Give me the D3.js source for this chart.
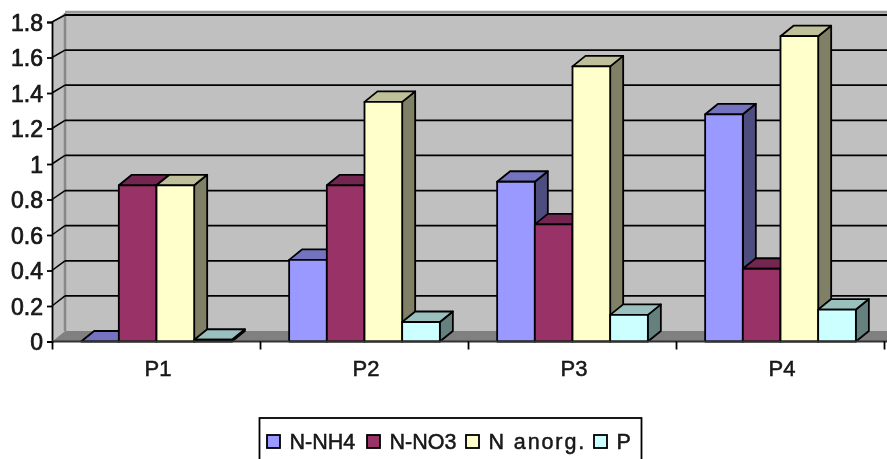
<!DOCTYPE html>
<html><head><meta charset="utf-8">
<script src="https://cdnjs.cloudflare.com/ajax/libs/d3/7.8.5/d3.min.js"></script>
<style>html,body{margin:0;padding:0;background:#fff;overflow:hidden}svg{display:block}text{font-family:"Liberation Sans",Arial,sans-serif;fill:#1a1a1a}</style>
</head><body><svg id="c" width="887" height="459"></svg>
<script>
const categories = ["P1","P2","P3","P4"];
const seriesNames = ["N-NH4","N-NO3","N anorg.","P"];
const nNH4 = [0, 0.46, 0.9, 1.28];
const nNO3 = [0.88, 0.88, 0.66, 0.41];
const nAnorg = [0.88, 1.35, 1.55, 1.72];
const pVals = [0.01, 0.11, 0.15, 0.18];
const seriesValues = [nNH4, nNO3, nAnorg, pVals];
const tickValues = [0,0.2,0.4,0.6,0.8,1,1.2,1.4,1.6,1.8];
const frontColors = ["#9999FF","#993366","#FFFFCC","#CCFFFF"];
const topColors = ["#7373BF","#732650","#BFBF99","#99BFBF"];
const sideColors = ["#4D4D80","#4D1A33","#808066","#668080"];

const svg = d3.select("#c");
const defs = svg.append("defs");
defs.append("filter").attr("id","soft").attr("x","-2%").attr("y","-2%").attr("width","104%").attr("height","104%")
  .append("feGaussianBlur").attr("stdDeviation",0.55);
const g = svg.append("g").attr("filter","url(#soft)");

const dx = 13, dy = -10.5;
const x = d3.scaleBand().domain(categories).range([52.5,884.5]);
const inner = d3.scaleBand().domain(seriesNames).range([0,x.bandwidth()]).paddingInner(0).paddingOuter(0.76);
const y = d3.scaleLinear().domain([0,1.8]).range([341.5,22]);
const yBack = d3.scaleLinear().domain([0,1.8]).range([331,15]);
const [x0,x1] = [52, 900];
const pts = a => a.map(p=>p.join(",")).join(" ");

// walls
g.append("polygon").attr("points",pts([[x0+dx,13],[x1,13],[x1,yBack(0)],[x0+dx,yBack(0)]])).attr("fill","#C0C0C0");
g.append("polygon").attr("points",pts([[x0,y(1.8)],[x0+dx,13],[x0+dx,yBack(0)],[x0,y(0)]])).attr("fill","#C0C0C0");
g.append("polygon").attr("points",pts([[x0,y(0)],[x0+dx,yBack(0)],[x1,yBack(0)],[x1,y(0)]])).attr("fill","#808080");
g.append("line").attr("x1",x0+dx).attr("x2",x0+dx).attr("y1",13).attr("y2",yBack(0)).attr("stroke","#888").attr("stroke-width",2.5);
g.append("line").attr("x1",x0+dx).attr("x2",x1).attr("y1",12).attr("y2",12).attr("stroke","#999").attr("stroke-width",2.5);

// gridlines and oblique connectors
const ticksG = g.append("g");
ticksG.selectAll("line.grid").data(tickValues.filter(d=>d>0)).join("line").attr("class","grid")
  .attr("x1",x0+dx).attr("x2",x1).attr("y1",d=>yBack(d)).attr("y2",d=>yBack(d))
  .attr("stroke","#000").attr("stroke-width",1.8);
ticksG.selectAll("line.ob").data(tickValues.filter(d=>d>0)).join("line").attr("class","ob")
  .attr("x1",x0).attr("x2",x0+dx).attr("y1",d=>y(d)).attr("y2",d=>yBack(d))
  .attr("stroke","#000").attr("stroke-width",1.5);

// bars
categories.forEach((c,ci)=>{
  seriesNames.forEach((s,si)=>{
    const v = seriesValues[si][ci];
    const l = x(c)+inner(s), r = l+inner.bandwidth(), t = y(v), b = y(0);
    const bar = g.append("g").attr("stroke","#000").attr("stroke-width",1.8).attr("stroke-linejoin","round");
    bar.append("polygon").attr("points",pts([[r,t],[r+dx,t+dy],[r+dx,b+dy],[r,b]])).attr("fill",sideColors[si]);
    bar.append("polygon").attr("points",pts([[l,t],[l+dx,t+dy],[r+dx,t+dy],[r,t]])).attr("fill",topColors[si]);
    bar.append("rect").attr("x",l).attr("y",t).attr("width",r-l).attr("height",Math.max(0,b-t)).attr("fill",frontColors[si]);
  });
});

// axes
const yAxis = d3.axisLeft(y).tickValues(tickValues).tickFormat(d3.format("~g")).tickSize(5).tickPadding(4);
const ya = g.append("g").attr("transform",`translate(${x0},0)`).call(yAxis);
ya.select(".domain").attr("stroke","#000").attr("stroke-width",1.8);
ya.selectAll(".tick line").attr("stroke","#000").attr("stroke-width",1.8);
ya.selectAll("text").attr("font-size",23).attr("fill","#111").attr("stroke","#111").attr("stroke-width",0.7)
  .attr("font-family","'Liberation Sans',Arial,sans-serif").attr("dy","0.35em");

const xAxis = d3.axisBottom(x).tickSize(0).tickPadding(19);
const xa = g.append("g").attr("transform",`translate(0,${y(0)})`).call(xAxis);
xa.select(".domain").attr("stroke","#333").attr("stroke-width",1.8).attr("d",`M${x0},0H${x1}`);
xa.selectAll("text").attr("font-size",22).attr("fill","#111").attr("stroke","#111").attr("stroke-width",0.5)
  .attr("dx",1.5).attr("font-family","'Liberation Sans',Arial,sans-serif");
g.append("g").selectAll("line").data(d3.range(5)).join("line")
  .attr("x1",i=>x.range()[0]+i*x.step()).attr("x2",i=>x.range()[0]+i*x.step())
  .attr("y1",y(0)).attr("y2",y(0)+8).attr("stroke","#000").attr("stroke-width",1.8);

// legend
const legendX = [267,367,466,594];
const legendSpacing = [0,0,1.9,0];
g.append("rect").attr("x",259.5).attr("y",418).attr("width",382).attr("height",60).attr("fill","#fff").attr("stroke","#000").attr("stroke-width",1.8);
const lg = g.append("g").selectAll("g").data(seriesNames).join("g").attr("transform",(d,i)=>`translate(${legendX[i]},435)`);
lg.append("rect").attr("width",13).attr("height",13).attr("fill",(d,i)=>frontColors[i]).attr("stroke","#000").attr("stroke-width",1.8);
lg.append("text").attr("x",22.5).attr("y",6).attr("dy","0.35em").attr("font-size",21.5).attr("fill","#111").attr("stroke","#111").attr("stroke-width",0.5)
  .attr("letter-spacing",(d,i)=>legendSpacing[i]).text(d=>d);
</script></body></html>
